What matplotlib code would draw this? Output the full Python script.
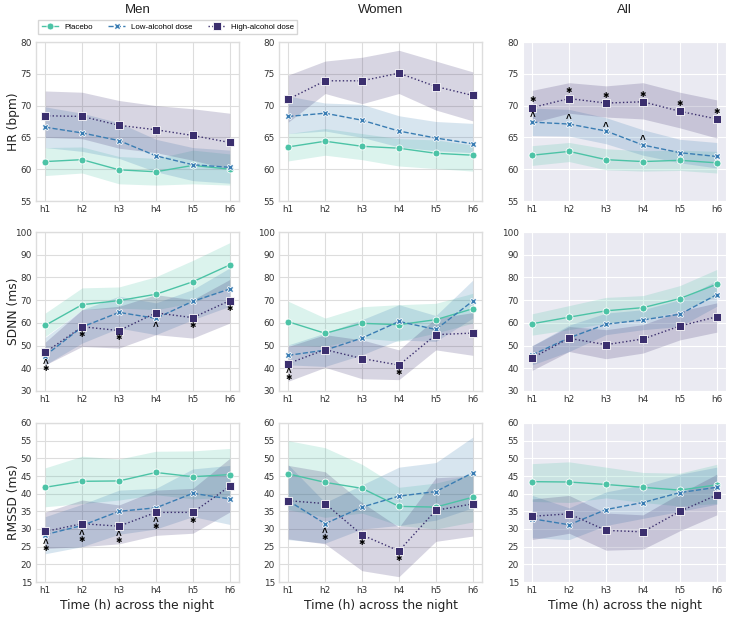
import numpy as np
import matplotlib
matplotlib.use("Agg")
import matplotlib.pyplot as plt
import seaborn as sns

hours = ["h1", "h2", "h3", "h4", "h5", "h6"]
groups = ["Placebo", "Low-alcohol dose", "High-alcohol dose"]
columns = ["Men", "Women", "All"]
row_labels = ["HR (bpm)", "SDNN (ms)", "RMSSD (ms)"]

# ---- HR ----
hr_men_mean = [[61.2, 61.5, 59.9, 59.6, 60.6, 60.0],
               [66.6, 65.7, 64.5, 62.1, 60.7, 60.3],
               [68.4, 68.3, 66.9, 66.2, 65.3, 64.2]]
hr_men_lo = [[59.0, 59.4, 57.7, 57.5, 57.7, 57.5],
             [63.4, 62.8, 61.7, 59.6, 58.2, 57.8],
             [65.0, 64.8, 63.3, 62.6, 61.4, 60.0]]
hr_men_hi = [[63.4, 63.5, 62.0, 61.7, 63.0, 62.4],
             [69.8, 68.8, 67.3, 64.7, 63.4, 63.0],
             [72.3, 72.1, 70.8, 70.0, 69.5, 68.8]]

hr_women_mean = [[63.5, 64.4, 63.6, 63.3, 62.5, 62.2],
                 [68.3, 68.8, 67.7, 66.0, 64.9, 64.0],
                 [71.0, 73.9, 73.9, 75.1, 73.0, 71.6]]
hr_women_lo = [[61.3, 62.2, 61.5, 60.5, 60.1, 59.7],
               [65.6, 66.0, 65.0, 63.5, 62.9, 62.6],
               [67.4, 71.9, 70.3, 71.9, 69.3, 67.6]]
hr_women_hi = [[65.6, 66.4, 65.6, 64.8, 64.6, 63.8],
               [71.5, 70.4, 70.2, 68.4, 67.5, 67.2],
               [74.8, 77.0, 77.6, 78.7, 77.0, 75.3]]

hr_all_mean = [[62.2, 62.8, 61.5, 61.2, 61.4, 61.0],
               [67.4, 67.1, 66.0, 63.8, 62.6, 62.0],
               [69.7, 71.1, 70.4, 70.6, 69.1, 67.9]]
hr_all_lo = [[60.6, 61.2, 59.9, 59.7, 59.8, 59.4],
             [65.3, 65.2, 64.0, 62.2, 61.0, 60.2],
             [67.3, 68.8, 68.2, 67.9, 66.5, 64.9]]
hr_all_hi = [[63.7, 64.2, 63.2, 62.9, 63.0, 62.8],
             [69.6, 69.4, 68.1, 66.2, 64.7, 64.2],
             [72.4, 73.6, 73.1, 73.6, 72.1, 70.9]]

# ---- SDNN ----
sdnn_men_mean = [[58.9, 68.0, 69.8, 72.6, 78.1, 85.5],
                 [45.6, 58.2, 64.6, 62.0, 69.5, 74.9],
                 [47.0, 58.3, 56.6, 64.4, 62.3, 69.8]]
sdnn_men_lo = [[54.0, 65.8, 66.5, 65.8, 68.8, 75.8],
               [41.5, 51.1, 57.7, 54.8, 61.4, 67.3],
               [41.5, 49.6, 48.9, 54.8, 53.3, 59.9]]
sdnn_men_hi = [[64.3, 75.4, 75.8, 80.3, 87.5, 95.3],
               [53.6, 65.8, 71.7, 68.8, 74.7, 84.2],
               [51.5, 65.8, 67.3, 72.4, 70.2, 79.1]]

sdnn_women_mean = [[60.5, 55.4, 59.8, 59.2, 61.4, 66.2],
                   [45.7, 48.0, 53.3, 60.6, 57.1, 69.6],
                   [42.1, 48.2, 44.3, 41.4, 54.8, 55.5]]
sdnn_women_lo = [[50.3, 49.6, 53.3, 51.9, 55.5, 59.9],
                 [41.5, 40.8, 45.9, 52.5, 51.8, 62.1],
                 [34.3, 40.4, 35.4, 35.0, 48.1, 45.7]]
sdnn_women_hi = [[69.5, 62.1, 67.1, 68.0, 68.6, 73.0],
                 [50.3, 55.5, 61.4, 68.0, 63.2, 78.8],
                 [49.6, 54.8, 52.5, 48.1, 62.1, 64.5]]

sdnn_all_mean = [[59.6, 62.5, 65.3, 66.7, 70.7, 77.0],
                 [45.9, 53.4, 59.4, 61.3, 63.8, 72.4],
                 [44.6, 53.2, 50.4, 52.9, 58.6, 62.7]]
sdnn_all_lo = [[54.6, 57.0, 59.9, 61.4, 65.1, 71.7],
               [41.5, 47.4, 54.8, 57.0, 58.4, 67.3],
               [39.1, 47.4, 44.2, 46.7, 52.5, 55.9]]
sdnn_all_hi = [[64.0, 67.6, 71.2, 72.0, 76.4, 83.5],
               [50.0, 59.0, 64.3, 65.8, 70.2, 78.6],
               [49.9, 58.4, 57.0, 59.2, 65.1, 68.8]]

# ---- RMSSD ----
rmssd_men_mean = [[41.8, 43.5, 43.6, 46.0, 44.8, 45.4],
                  [28.4, 31.0, 35.0, 36.0, 40.1, 38.5],
                  [29.3, 31.5, 30.8, 34.7, 34.7, 42.1]]
rmssd_men_lo = [[36.3, 37.2, 38.2, 39.7, 38.5, 39.0],
                [23.0, 25.0, 28.5, 30.0, 33.5, 31.3],
                [24.5, 25.0, 25.8, 28.2, 28.8, 34.8]]
rmssd_men_hi = [[47.3, 50.6, 49.8, 52.0, 52.1, 52.8],
                [33.5, 37.0, 41.0, 41.5, 47.0, 48.0],
                [34.8, 38.2, 36.8, 41.0, 41.5, 50.0]]

rmssd_women_mean = [[45.6, 43.2, 41.5, 36.4, 36.2, 39.0],
                    [38.0, 31.5, 36.2, 39.3, 40.6, 45.9],
                    [38.0, 37.2, 28.3, 23.8, 35.3, 37.1]]
rmssd_women_lo = [[35.5, 33.3, 34.5, 31.0, 30.0, 32.0],
                  [27.0, 26.0, 30.0, 31.0, 32.5, 36.0],
                  [27.2, 25.8, 18.2, 16.5, 26.5, 28.0]]
rmssd_women_hi = [[55.0, 53.0, 48.3, 41.8, 43.0, 45.5],
                  [48.2, 37.5, 42.5, 47.5, 48.8, 56.0],
                  [48.0, 46.2, 37.5, 30.5, 44.5, 45.0]]

rmssd_all_mean = [[43.4, 43.3, 42.6, 41.8, 41.0, 42.5],
                  [32.9, 31.2, 35.5, 37.5, 40.3, 41.8],
                  [33.6, 34.3, 29.6, 29.2, 35.0, 39.6]]
rmssd_all_lo = [[37.8, 37.5, 38.8, 37.5, 36.5, 37.2],
                [27.5, 27.0, 31.0, 33.0, 35.0, 37.0],
                [27.0, 28.8, 24.0, 24.3, 29.5, 34.0]]
rmssd_all_hi = [[48.5, 49.0, 47.5, 46.0, 45.8, 48.3],
                [39.5, 36.0, 40.5, 42.5, 45.5, 47.5],
                [38.5, 39.5, 34.5, 34.0, 40.0, 45.5]]

# significance marks: (row, col, hour index, symbol, y)
marks = [
    (0, 2, 0, "*", 70.9), (0, 2, 1, "*", 72.3), (0, 2, 2, "*", 71.6),
    (0, 2, 3, "*", 71.8), (0, 2, 4, "*", 70.3), (0, 2, 5, "*", 69.0),
    (0, 2, 0, "^", 68.5), (0, 2, 1, "^", 68.2), (0, 2, 2, "^", 66.9), (0, 2, 3, "^", 64.9),
    (1, 0, 0, "^", 42.6), (1, 0, 0, "*", 39.9), (1, 0, 1, "*", 54.7),
    (1, 0, 2, "*", 53.4), (1, 0, 3, "^", 59.3), (1, 0, 4, "*", 58.8), (1, 0, 5, "*", 66.4),
    (1, 1, 0, "^", 38.8), (1, 1, 0, "*", 35.9), (1, 1, 3, "*", 38.1),
    (2, 0, 0, "^", 26.3), (2, 0, 0, "*", 24.5), (2, 0, 1, "^", 28.8), (2, 0, 1, "*", 27.0),
    (2, 0, 2, "^", 28.7), (2, 0, 2, "*", 26.8), (2, 0, 3, "^", 32.5), (2, 0, 3, "*", 30.8),
    (2, 0, 4, "*", 32.5),
    (2, 1, 1, "^", 29.5), (2, 1, 1, "*", 27.7), (2, 1, 2, "*", 26.2), (2, 1, 3, "*", 21.7),
]

panels = [
    [(hr_men_mean, hr_men_lo, hr_men_hi), (hr_women_mean, hr_women_lo, hr_women_hi),
     (hr_all_mean, hr_all_lo, hr_all_hi)],
    [(sdnn_men_mean, sdnn_men_lo, sdnn_men_hi), (sdnn_women_mean, sdnn_women_lo, sdnn_women_hi),
     (sdnn_all_mean, sdnn_all_lo, sdnn_all_hi)],
    [(rmssd_men_mean, rmssd_men_lo, rmssd_men_hi), (rmssd_women_mean, rmssd_women_lo, rmssd_women_hi),
     (rmssd_all_mean, rmssd_all_lo, rmssd_all_hi)],
]
ylims = [(55, 80, 5), (30, 100, 10), (15, 60, 5)]

colors = ["#4cc3a6", "#3a7db3", "#3b2f6e"]
markers = ["o", "X", "s"]
styles = ["-", "--", ":"]

plt.rcParams["font.family"] = ["Liberation Sans", "DejaVu Sans"]

fig = plt.figure(figsize=(7.29, 6.18), dpi=100)
lefts = [36 / 729, 279 / 729, 523 / 729]
bottoms = [1 - 201 / 618, 1 - 391 / 618, 1 - 582 / 618]
w, h = 203 / 729, 159 / 618

x = np.arange(len(hours))
axes = [[None] * 3 for _ in range(3)]
for r in range(3):
    for c in range(3):
        style = "darkgrid" if c == 2 else "whitegrid"
        with sns.axes_style(style):
            ax = fig.add_axes([lefts[c], bottoms[r], w, h])
        axes[r][c] = ax
        means, los, his = panels[r][c]
        for g in range(3):
            ax.fill_between(x, los[g], his[g], color=colors[g], alpha=0.2, lw=0)
            ax.plot(x, means[g], color=colors[g], ls=styles[g], lw=1.0,
                    marker=markers[g], ms=5.5 if g == 2 else 5, mec="white", mew=0.6,
                    label=groups[g])
        lo, hi, step = ylims[r]
        ax.set_ylim(lo, hi)
        ax.set_yticks(np.arange(lo, hi + 0.1, step))
        ax.set_xlim(-0.25, 5.25)
        ax.set_xticks(x)
        ax.set_xticklabels(hours)
        ax.tick_params(labelsize=6.4, colors="#333333", length=0, pad=3)
        if c < 2:
            for s in ax.spines.values():
                s.set_color("#dddddd")
                s.set_linewidth(1.0)
            ax.grid(color="#dddddd", lw=0.8)
        else:
            ax.grid(color="white", lw=0.8)
        if c == 0:
            ax.set_ylabel(row_labels[r], fontsize=8.8, color="#222222")
            ax.yaxis.set_label_coords(-0.08, 0.5)
        if r == 2:
            ax.set_xlabel("Time (h) across the night", fontsize=8.8, color="#222222", labelpad=3)

for r, c, i, sym, yv in marks:
    if sym == "*":
        axes[r][c].annotate("\u2731", (i, yv), xytext=(0, 0), textcoords="offset points",
                            ha="center", va="center", fontsize=5.5, family="DejaVu Sans",
                            color="black")
    else:
        axes[r][c].annotate("^", (i, yv), xytext=(0, -1.5), textcoords="offset points",
                            ha="center", va="center", fontsize=7, fontweight="bold",
                            color="black")

for c, name in enumerate(columns):
    fig.text(lefts[c] + w / 2, 1 - 10 / 618, name, ha="center", va="center",
             fontsize=9.5, color="#222222")

handles, labels = axes[0][0].get_legend_handles_labels()
fig.legend(handles, labels, loc="center left", bbox_to_anchor=(38 / 729, 1 - 27 / 618),
           ncol=3, fontsize=5.7, frameon=True, edgecolor="#cccccc", fancybox=False,
           handlelength=2.1, columnspacing=2.0, borderpad=0.45, handletextpad=0.75,
           borderaxespad=0)

fig.savefig("out.png", dpi=100)
